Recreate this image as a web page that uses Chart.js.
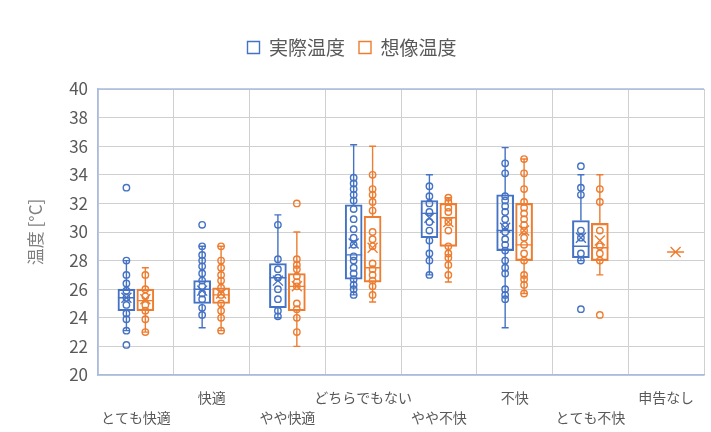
<!DOCTYPE html>
<html lang="ja">
<head>
<meta charset="utf-8">
<title>温度</title>
<script src="https://cdn.jsdelivr.net/npm/chart.js@4"></script>
<style>
  html, body { margin: 0; padding: 0; background: #fff; }
</style>
</head>
<body>
<canvas id="chart" width="711" height="432"></canvas>
<script>
const categories = ['とても快適', '快適', 'やや快適', 'どちらでもない', 'やや不快', '不快', 'とても不快', '申告なし'];

// individual answers per category
const actualPoints = [
  [33.1, 28.0, 27.0, 26.4, 25.9, 25.4, 24.9, 24.3, 23.9, 23.1, 22.1],
  [30.5, 29.0, 28.4, 28.0, 27.6, 27.1, 26.6, 26.2, 25.7, 25.3, 24.7, 24.2],
  [30.5, 28.1, 27.4, 26.8, 26.0, 25.3, 24.5, 24.1],
  [33.8, 33.4, 33.0, 32.6, 32.2, 31.6, 30.9, 30.2, 29.6, 29.1, 28.3, 28.0, 27.5, 27.1, 26.7, 26.3, 26.0, 25.6],
  [33.2, 32.5, 32.0, 31.4, 30.7, 30.1, 29.4, 28.5, 28.0, 27.0],
  [34.8, 34.1, 32.5, 32.2, 31.8, 31.4, 30.9, 30.4, 30.0, 29.5, 29.1, 28.7, 28.0, 27.5, 27.1, 26.0, 25.6, 25.3],
  [34.6, 33.1, 32.6, 30.1, 29.6, 28.5, 28.0, 24.6],
  []
];
const imaginedPoints = [
  [27.0, 26.0, 25.5, 24.9, 24.5, 23.9, 23.0],
  [29.0, 28.0, 27.5, 27.0, 26.6, 26.1, 25.6, 25.0, 24.5, 24.0, 23.1],
  [32.0, 28.1, 27.7, 27.4, 26.9, 26.5, 26.2, 25.0, 24.6, 24.0, 23.0],
  [34.0, 33.0, 32.6, 32.1, 31.5, 30.0, 29.5, 29.0, 27.8, 27.4, 27.0, 26.6, 26.2, 25.6],
  [32.4, 32.1, 31.7, 31.4, 30.7, 30.1, 29.0, 28.5, 28.2, 27.7, 27.0],
  [35.1, 34.1, 33.0, 32.1, 31.7, 31.3, 30.9, 30.5, 30.1, 29.6, 29.1, 28.5, 28.0, 27.0, 26.7, 26.3, 25.7],
  [33.0, 32.1, 30.1, 29.0, 28.5, 28.0, 24.2],
  []
];

// [whisker low, Q1, median, Q3, whisker high]
const actualBoxes = [
  [23.1, 24.5, 25.4, 26.0, 28.0],
  [23.3, 25.0, 26.0, 26.6, 29.0],
  [24.0, 24.7, 26.8, 27.8, 31.2],
  [25.6, 26.7, 28.4, 31.9, 36.1],
  [27.0, 29.6, 31.3, 32.2, 34.0],
  [23.3, 28.7, 30.1, 32.6, 35.9],
  [28.0, 28.2, 29.0, 30.8, 34.0],
  null
];
const imaginedBoxes = [
  [23.0, 24.5, 25.2, 26.0, 27.5],
  [23.1, 25.0, 25.6, 26.1, 29.0],
  [22.0, 24.5, 26.2, 27.1, 30.0],
  [25.1, 26.5, 27.5, 31.1, 36.0],
  [26.5, 29.0, 31.0, 32.0, 32.4],
  [25.7, 28.0, 29.1, 32.0, 35.1],
  [27.0, 28.0, 28.9, 30.6, 34.0],
  [28.6, 28.6, 28.6, 28.6, 28.6]
];
const actualMeans = [25.4, 25.9, 26.6, 29.2, 31.0, 30.3, 29.6, null];
const imaginedMeans = [25.3, 25.7, 26.2, 28.9, 30.7, 30.1, 29.4, 28.6];

const BLUE = '#4472c4';
const ORANGE = '#ed7d31';
const GRID = '#d0d0d0';
const FRAME = '#a8bbe0';
const TEXT = '#595959';
const FONT = "'Noto Sans CJK JP', 'Noto Sans', sans-serif";
const SHIFT = 0.125;   // box offset from the category centre
const BOX_W = 17;
const CAP = 3.5;
const MARK = 5;

const series = [
  { boxes: actualBoxes, means: actualMeans, color: BLUE, shift: -SHIFT },
  { boxes: imaginedBoxes, means: imaginedMeans, color: ORANGE, shift: SHIFT }
];

function boxBars(boxes, shift) {
  const out = [];
  boxes.forEach((b, i) => { if (b) out.push({ x: i + shift, y: [b[1], b[3]] }); });
  return out;
}
function pointsOf(lists, shift) {
  const out = [];
  lists.forEach((vals, i) => vals.forEach(v => out.push({ x: i + shift, y: v })));
  return out;
}

// whiskers, medians and mean crosses, plus the top edge of the frame
const whiskers = {
  id: 'whiskers',
  beforeInit(chart) {
    const fit = chart.legend.fit;
    chart.legend.fit = function () { fit.call(this); this.height += 22; };
  },
  beforeDatasetsDraw(chart) {
    const { ctx, chartArea, scales } = chart;
    const xs = scales.xv, ys = scales.y;
    const py = v => ys.getPixelForValue(v);
    ctx.save();
    ctx.strokeStyle = FRAME;
    ctx.lineWidth = 1.5;
    ctx.beginPath();
    ctx.moveTo(chartArea.left, chartArea.top);
    ctx.lineTo(chartArea.right, chartArea.top);
    ctx.stroke();
    ctx.lineWidth = 1.4;
    series.forEach(s => {
      ctx.strokeStyle = s.color;
      s.boxes.forEach((b, i) => {
        if (!b) return;
        const [lo, q1, med, q3, hi] = b;
        const x = xs.getPixelForValue(i + s.shift);
        ctx.beginPath();
        ctx.moveTo(x, py(hi)); ctx.lineTo(x, py(q3));
        ctx.moveTo(x, py(q1)); ctx.lineTo(x, py(lo));
        ctx.moveTo(x - CAP, py(hi)); ctx.lineTo(x + CAP, py(hi));
        ctx.moveTo(x - CAP, py(lo)); ctx.lineTo(x + CAP, py(lo));
        ctx.moveTo(x - BOX_W / 2, py(med)); ctx.lineTo(x + BOX_W / 2, py(med));
        const m = py(s.means[i]);
        ctx.moveTo(x - MARK, m - MARK); ctx.lineTo(x + MARK, m + MARK);
        ctx.moveTo(x + MARK, m - MARK); ctx.lineTo(x - MARK, m + MARK);
        ctx.stroke();
      });
    });
    ctx.restore();
  }
};

const boxStyle = color => ({
  type: 'bar',
  xAxisID: 'xv',
  yAxisID: 'y',
  backgroundColor: 'rgba(255,255,255,0)',
  borderColor: color,
  borderWidth: 1.4,
  borderSkipped: false,
  barThickness: BOX_W,
  grouped: false
});
const dotStyle = color => ({
  type: 'scatter',
  xAxisID: 'xv',
  yAxisID: 'y',
  pointStyle: 'circle',
  pointRadius: 3.2,
  pointBorderWidth: 1.4,
  pointBorderColor: color,
  pointBackgroundColor: 'rgba(255,255,255,0)',
  backgroundColor: 'rgba(255,255,255,0)',
  borderColor: color
});

new Chart(document.getElementById('chart'), {
  type: 'bar',
  data: {
    labels: categories,
    datasets: [
      { ...boxStyle(BLUE), label: '実際温度', data: boxBars(actualBoxes, -SHIFT) },
      { ...boxStyle(ORANGE), label: '想像温度', data: boxBars(imaginedBoxes, SHIFT) },
      { ...dotStyle(BLUE), label: '実際温度 回答', data: pointsOf(actualPoints, -SHIFT) },
      { ...dotStyle(ORANGE), label: '想像温度 回答', data: pointsOf(imaginedPoints, SHIFT) }
    ]
  },
  options: {
    responsive: false,
    animation: false,
    layout: { padding: { top: 24, right: 7, left: 0, bottom: 0 } },
    plugins: {
      tooltip: { enabled: false },
      legend: {
        position: 'top',
        labels: {
          boxWidth: 12,
          boxHeight: 12,
          padding: 14,
          color: TEXT,
          font: { family: FONT, size: 19 },
          filter: item => item.datasetIndex < 2
        }
      }
    },
    scales: {
      x: {
        type: 'category',
        labels: categories,
        offset: true,
        grid: { offset: true, color: GRID, drawTicks: false },
        border: { color: FRAME, width: 1.5 },
        ticks: {
          autoSkip: false,
          maxRotation: 0,
          padding: 13,
          color: TEXT,
          font: { family: FONT, size: 14, lineHeight: 1.43 },
          callback(value, index) {
            const name = this.getLabelForValue(value);
            return index % 2 ? [name, ''] : ['', name];
          }
        },
        afterFit(scale) { scale.height = 57; }
      },
      xv: { type: 'linear', display: false, offset: false, min: -0.5, max: 7.5 },
      y: {
        min: 20,
        max: 40,
        beginAtZero: false,
        grid: { color: GRID, drawTicks: false },
        border: { color: FRAME, width: 1.5 },
        ticks: { stepSize: 2, padding: 10, color: TEXT, font: { family: FONT, size: 17 } },
        title: {
          display: true,
          text: '温度 [°C]',
          color: '#7f7f7f',
          padding: { top: 25, bottom: 0 },
          font: { family: FONT, size: 17 }
        },
        afterFit(scale) { scale.width = 98; }
      }
    }
  },
  plugins: [whiskers]
});
</script>
</body>
</html>
